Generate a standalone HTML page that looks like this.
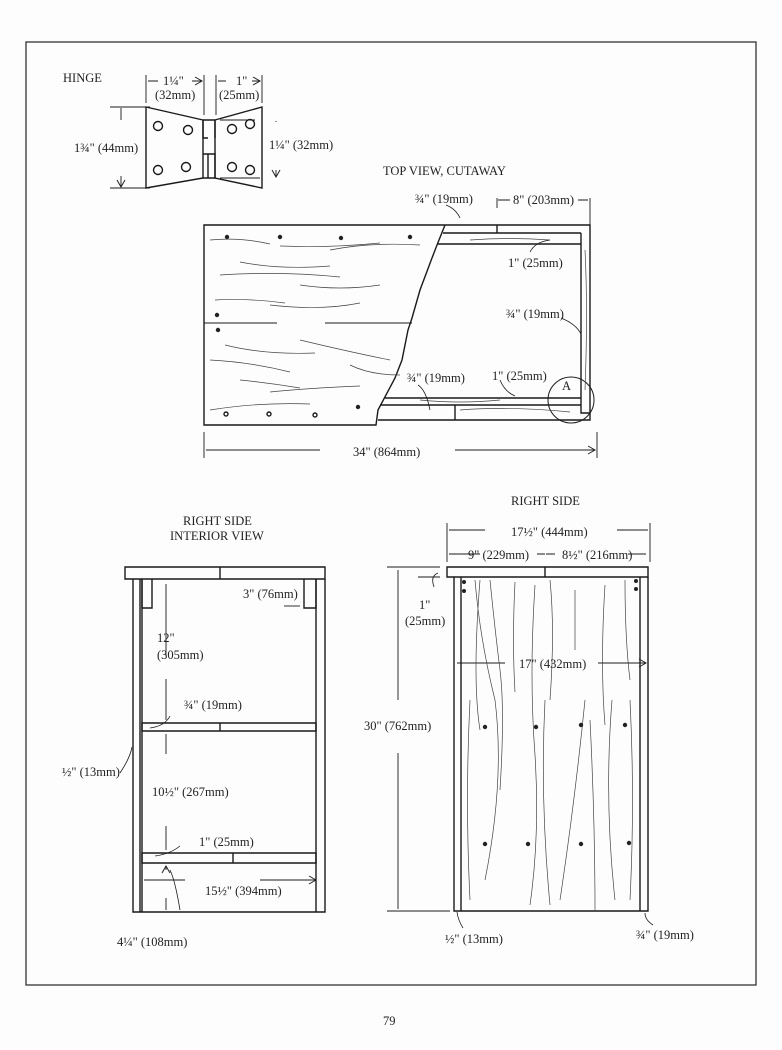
<!DOCTYPE html>
<html><head><style>
html,body{margin:0;padding:0;background:#fdfdfd;}
svg{display:block;}
text{font-family:"Liberation Serif",serif;fill:#222;font-size:12.5px;}
</style></head><body>
<svg width="782" height="1050" viewBox="0 0 782 1050" xmlns="http://www.w3.org/2000/svg">
<defs><marker id="a" markerWidth="10" markerHeight="10" refX="8" refY="5" orient="auto-start-reverse" markerUnits="userSpaceOnUse"><path d="M1,1 L8,5 L1,9" fill="none" stroke="#222" stroke-width="1"/></marker></defs>
<rect x="26" y="42" width="730" height="943" fill="none" stroke="#333" stroke-width="1.3"/>
<g stroke="#1a1a1a" fill="none" stroke-width="1.4">
<!-- HINGE -->
<path d="M146,107 L203,120 L203,178 L146,188 Z"/>
<path d="M262,107 L215,120 L215,178 L262,188 Z"/>
<path d="M203,120 h12 M203,178 h12 M203,120 v18 h5 M215,120 v18 M203,154 h12 v24 M208,154 v24"/>
<circle cx="158" cy="126" r="4.5"/><circle cx="188" cy="130" r="4.5"/><circle cx="158" cy="170" r="4.5"/><circle cx="186" cy="167" r="4.5"/>
<circle cx="232" cy="129" r="4.5"/><circle cx="250" cy="124" r="4.5"/><circle cx="232" cy="167" r="4.5"/><circle cx="250" cy="170" r="4.5"/>
<path d="M146,75 v28 M204,75 v40 M216,75 v40 M262,75 v28" stroke-width="0.9"/>
<path d="M158,81 h-10 M192,81 h10" marker-end="url(#a)" stroke-width="0.9"/>
<path d="M226,81 h-8 M252,81 h8" marker-end="url(#a)" stroke-width="0.9"/>
<path d="M110,107 h40 M110,188 h40 M220,120 h35 M220,178 h40" stroke-width="0.9"/>
<path d="M121,120 v-12 M121,176 v11" marker-end="url(#a)" stroke-width="0.9"/>
<path d="M276,122 v-1 M276,170 v7" marker-end="url(#a)" stroke-width="0.9"/>
<!-- TOP VIEW -->
<path d="M445,225 H204 V425 H376 L378,410 L395,378 L402,360 L408,330 L412,318 L420,290 L432,258 L437,245 L445,225"/>
<path d="M204,323 H277 M325,323 H412" stroke-width="1.1"/>
<path d="M445,225 H590 V420 H378 M443,233 H581 M437,244 H581 M581,233 V413 H590 M385,398 H581 M380,405 H581 M455,405 V420 M497,225 V233"/>
<circle cx="571" cy="400" r="23" stroke-width="1"/>
<path d="M497,198 v10 M590,198 v32 M204,432 v26 M597,432 v26" stroke-width="0.9"/>
<path d="M510,200 h-12 M578,200 h10 M320,450 h-114 M455,450 h140" marker-end="url(#a)" stroke-width="0.9"/>
<g stroke-width="0.7" stroke="#444">
<path d="M210,240 q30,-3 60,4 M280,246 q50,2 100,-3 M240,262 q40,8 90,4 M220,275 q60,-4 120,2 M300,285 q40,6 80,0 M215,300 q30,-2 70,3 M270,305 q50,6 90,-2 M330,250 q40,-8 90,-5 M225,345 q40,10 90,8 M300,340 q50,12 90,20 M210,360 q40,2 80,12 M240,380 q30,3 60,8 M270,392 q40,-4 90,-6 M210,410 q50,-8 100,-6 M350,365 q20,10 50,10"/>
<path d="M470,240 q40,-3 80,0 M460,410 q50,-4 110,2 M585,250 q3,60 0,140 M420,400 q40,4 80,0"/>
</g>
<g fill="#222" stroke="none"><circle cx="227" cy="237" r="2.2"/><circle cx="280" cy="237" r="2.2"/><circle cx="341" cy="238" r="2.2"/><circle cx="410" cy="237" r="2.2"/><circle cx="217" cy="315" r="2.2"/><circle cx="218" cy="330" r="2.2"/><circle cx="358" cy="407" r="2.2"/></g>
<g fill="none"><circle cx="226" cy="414" r="2"/><circle cx="269" cy="414" r="2"/><circle cx="315" cy="415" r="2"/></g>
<path d="M446,205 q10,4 14,13 M550,240 q-15,2 -20,12 M561,318 q15,6 20,16 M418,385 q8,5 12,25 M500,380 q5,12 15,16" stroke-width="0.8"/>
<!-- INTERIOR VIEW -->
<path d="M125,567 H325 V579 H125 Z M220,567 V579"/>
<path d="M133,579 V912 H325 V579 M140,579 V912 M142,579 V912 M316,579 V912"/>
<path d="M142,579 V608 H152 V579 M316,579 V608 H304 V579"/>
<path d="M142,723 H316 V731 H142 Z M220,723 V731"/>
<path d="M142,853 H316 V863 H142 Z M233,853 V863"/>
<path d="M166,656 V584 M166,679 V720 M166,754 V734 M166,826 V850 M166,898 V910 M166,870 V866" marker-end="url(#a)" stroke-width="0.9"/>
<path d="M185,880 H144 M260,880 H316" marker-end="url(#a)" stroke-width="0.9"/>
<path d="M284,606 H300" stroke-width="0.9"/>
<path d="M180,910 q-5,-30 -10,-40 M150,728 q15,-2 20,-12 M120,773 q10,-15 12,-26 M155,856 q15,-2 25,-10" stroke-width="0.8"/>
<!-- RIGHT SIDE -->
<path d="M447,567 H648 V577 H447 Z M545,567 V577"/>
<path d="M454,577 V911 H648 V577 M461,577 V911 M640,577 V911"/>
<path d="M447,523 V562 M650,523 V562 M387,567 H440 M387,911 H450 M418,577 H440" stroke-width="0.9"/>
<path d="M485,530 H449 M617,530 H648 M480,554 H449 M537,554 H545 M555,554 H546 M628,554 H646 M398,700 V570 M398,753 V909 M505,663 H457 M598,663 H646" marker-end="url(#a)" stroke-width="0.9"/>
<g stroke-width="0.7" stroke="#444">
<path d="M475,580 q5,60 20,120 q10,80 -10,180 M490,580 q5,50 10,90 q5,40 0,120 M515,582 q-3,60 0,110 M535,585 q-6,90 0,170 q5,80 -5,150 M550,580 q5,50 0,120 M545,700 q-5,100 5,205 M575,590 q0,40 0,60 M585,700 q-10,100 -25,200 M590,720 q5,100 5,190 M605,585 q-5,80 0,140 M612,700 q-8,100 3,200 M625,580 q0,60 5,100 M630,700 q5,100 0,200 M470,700 q-5,100 0,200 M480,580 q-8,100 0,150"/>
</g>
<g fill="#222" stroke="none"><circle cx="464" cy="582" r="2"/><circle cx="464" cy="591" r="2"/><circle cx="636" cy="581" r="2"/><circle cx="636" cy="589" r="2"/><circle cx="485" cy="727" r="2.2"/><circle cx="536" cy="727" r="2.2"/><circle cx="581" cy="725" r="2.2"/><circle cx="625" cy="725" r="2.2"/><circle cx="485" cy="844" r="2.2"/><circle cx="528" cy="844" r="2.2"/><circle cx="581" cy="844" r="2.2"/><circle cx="629" cy="843" r="2.2"/></g>
<path d="M438,573 q-8,3 -4,14 M463,928 q-5,-8 -6,-16 M653,925 q-8,-5 -8,-12" stroke-width="0.8"/>
</g>
<text x="63" y="82" font-size="13">HINGE</text>
<text x="163" y="85">1¼"</text><text x="155" y="99">(32mm)</text>
<text x="236" y="85">1"</text><text x="219" y="99">(25mm)</text>
<text x="74" y="152">1¾" (44mm)</text>
<text x="269" y="149">1¼" (32mm)</text>
<text x="383" y="175" font-size="13">TOP VIEW, CUTAWAY</text>
<text x="415" y="203">¾" (19mm)</text>
<text x="513" y="204">8" (203mm)</text>
<text x="508" y="267">1" (25mm)</text>
<text x="506" y="318">¾" (19mm)</text>
<text x="407" y="382">¾" (19mm)</text>
<text x="492" y="380">1" (25mm)</text>
<text x="562" y="390" font-size="14">A</text>
<text x="353" y="456">34" (864mm)</text>
<text x="183" y="525" font-size="13">RIGHT SIDE</text>
<text x="170" y="540" font-size="13">INTERIOR VIEW</text>
<text x="511" y="505" font-size="13">RIGHT SIDE</text>
<text x="243" y="598">3" (76mm)</text>
<text x="157" y="642">12"</text><text x="157" y="659">(305mm)</text>
<text x="184" y="709">¾" (19mm)</text>
<text x="62" y="776">½" (13mm)</text>
<text x="152" y="796">10½" (267mm)</text>
<text x="199" y="846">1" (25mm)</text>
<text x="205" y="895">15½" (394mm)</text>
<text x="117" y="946">4¼" (108mm)</text>
<text x="511" y="536">17½" (444mm)</text>
<text x="468" y="559">9" (229mm)</text>
<text x="562" y="559">8½" (216mm)</text>
<text x="419" y="609">1"</text><text x="405" y="625">(25mm)</text>
<text x="519" y="668">17" (432mm)</text>
<text x="364" y="730">30" (762mm)</text>
<text x="445" y="943">½" (13mm)</text>
<text x="636" y="939">¾" (19mm)</text>
<text x="383" y="1025" font-size="15">79</text>
</svg>
</body></html>
